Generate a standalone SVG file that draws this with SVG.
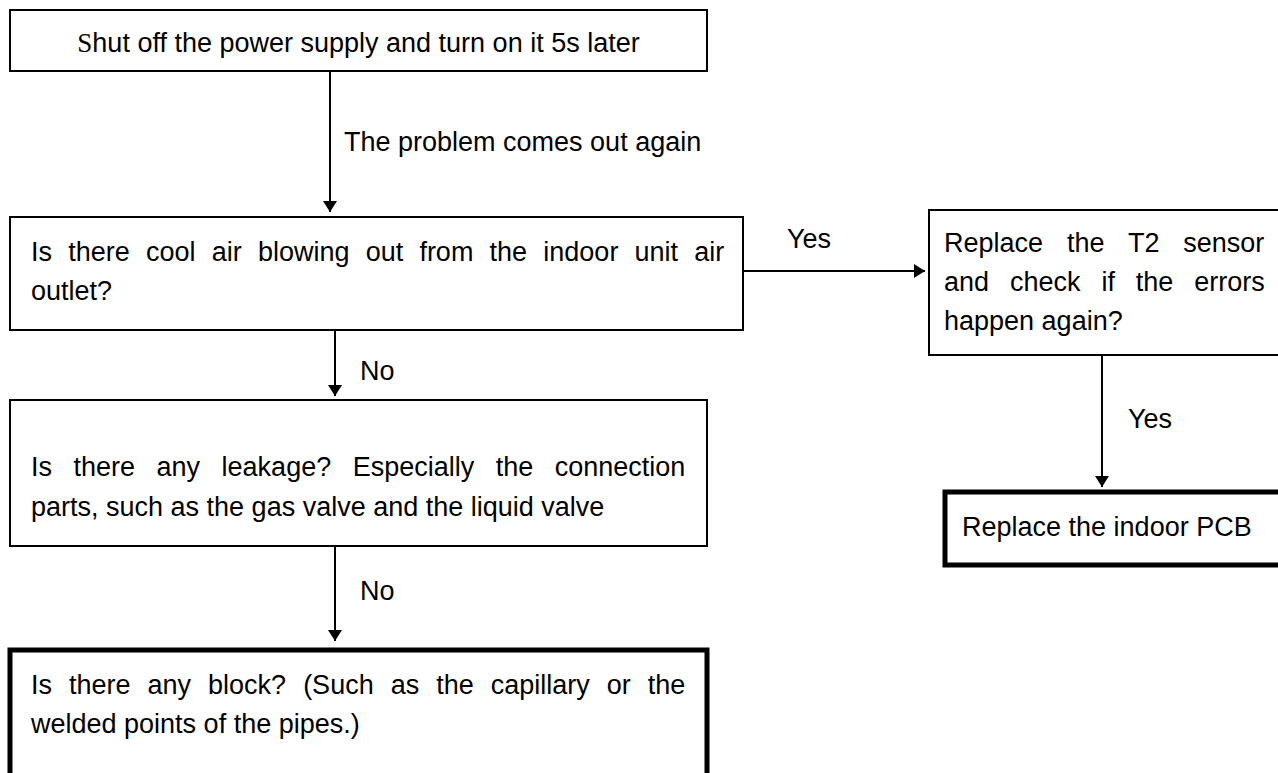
<svg xmlns="http://www.w3.org/2000/svg" width="1278" height="773" viewBox="0 0 1278 773">
<defs>
<marker id="arr" markerWidth="11" markerHeight="14" refX="11" refY="7" orient="auto" markerUnits="userSpaceOnUse">
<path d="M0,0 L11,7 L0,14 z" fill="#000"/>
</marker>
<style>
.box{fill:#fff;stroke:#000;stroke-width:2}
.thick{fill:#fff;stroke:#000;stroke-width:5}
.t{font-family:"Liberation Sans",Arial,sans-serif;font-size:27px;fill:#000}
.c{stroke:#000;stroke-width:2;fill:none;marker-end:url(#arr)}
</style>
</defs>
<g id="n1">
<rect class="box" x="10" y="10" width="697" height="61"/>
<text class="t" x="358.5" y="52" text-anchor="middle" font-size="28"><tspan font-family="Liberation Serif">S</tspan>hut off the power supply and turn on it 5s later</text>
</g>
<g id="n2">
<rect class="box" x="10" y="217" width="733" height="113"/>
<text class="t" x="31" y="261" word-spacing="8.7">Is there cool air blowing out from the indoor unit air</text>
<text class="t" x="31" y="300">outlet?</text>
</g>
<g id="n3">
<rect class="box" x="929" y="210" width="360" height="145"/>
<text class="t" x="944" y="252" word-spacing="16.4">Replace the T2 sensor</text>
<text class="t" x="944" y="291" word-spacing="13.4">and check if the errors</text>
<text class="t" x="944" y="330">happen again?</text>
</g>
<g id="n4">
<rect class="thick" x="945" y="492" width="360" height="73"/>
<text class="t" x="962" y="536">Replace the indoor PCB</text>
</g>
<g id="n5">
<rect class="box" x="10" y="400" width="697" height="146"/>
<text class="t" x="31" y="476" word-spacing="14">Is there any leakage? Especially the connection</text>
<text class="t" x="31" y="516">parts, such as the gas valve and the liquid valve</text>
</g>
<g id="n6">
<rect class="thick" x="10" y="650" width="697" height="140"/>
<text class="t" x="31" y="694" word-spacing="9.5">Is there any block? (Such as the capillary or the</text>
<text class="t" x="31" y="733">welded points of the pipes.)</text>
</g>
<g id="connectors">
<line class="c" x1="330" y1="71" x2="330" y2="212"/>
<text class="t" x="344" y="151">The problem comes out again</text>
<line class="c" x1="743" y1="271" x2="925" y2="271"/>
<text class="t" x="787" y="248">Yes</text>
<line class="c" x1="1102" y1="355" x2="1102" y2="487"/>
<text class="t" x="1128" y="428">Yes</text>
<line class="c" x1="335" y1="330" x2="335" y2="396"/>
<text class="t" x="360" y="380">No</text>
<line class="c" x1="335" y1="546" x2="335" y2="641"/>
<text class="t" x="360" y="600">No</text>
</g>
</svg>
